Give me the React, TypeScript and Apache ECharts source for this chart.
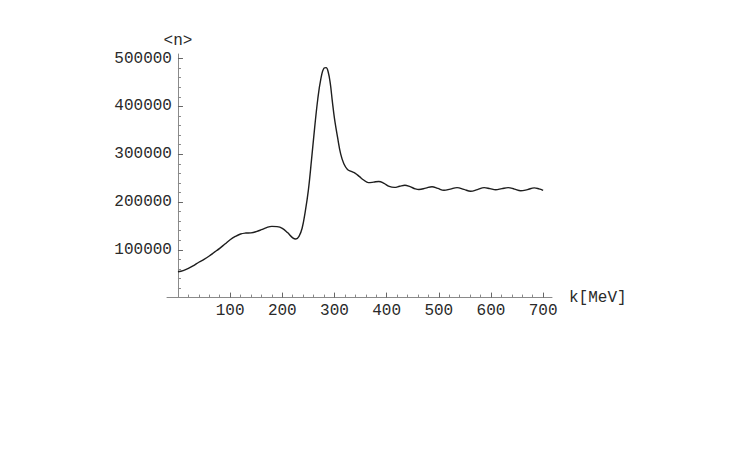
import React, { useEffect, useRef } from "react";
import * as echarts from "echarts";

const kValues = [
  0, 10, 20, 30, 40, 50, 60, 70, 80, 90, 100, 110, 120, 130, 140, 150, 160, 170, 180, 190,
  200, 210, 220, 226, 232, 238, 244, 250, 256, 262, 268, 274, 280, 284, 288, 292, 296, 300,
  306, 312, 318, 325, 332, 340, 348, 356, 365, 375, 385, 395, 405, 415, 425, 435, 445, 455,
  462, 475, 487, 498, 510, 522, 535, 548, 561, 574, 587, 598, 609, 621, 633, 645, 657, 670,
  683, 692, 700,
];
const nValues = [
  54000, 56500, 61000, 67000, 74000, 80000, 87000, 95000, 103000, 112000, 121000, 128000,
  133000, 135000, 135500, 138000, 142000, 146500, 149000, 148500, 145000, 136000, 125000,
  122500, 128000, 145000, 180000, 225000, 288000, 355000, 415000, 458000, 480000, 481000,
  472000, 448000, 410000, 375000, 335000, 300000, 280000, 268000, 264000, 260000, 253000,
  246000, 240500, 241500, 243000, 239000, 232500, 230500, 233000, 235000, 232000, 227500,
  226000, 229000, 232000, 228500, 224500, 227000, 230000, 226500, 222500, 226000, 230000,
  228000, 225500, 228000, 230000, 227000, 223500, 226000, 229500, 227500, 224500,
];
const xMajorTicks = [100, 200, 300, 400, 500, 600, 700];
const xMinorTicks = [20, 40, 60, 80, 120, 140, 160, 180, 220, 240, 260, 280, 320, 340, 360, 380, 420, 440, 460, 480, 520, 540, 560, 580, 620, 640, 660, 680];
const yMajorTicks = [100000, 200000, 300000, 400000, 500000];
const yMinorTicks = [
  20000, 40000, 60000, 80000, 120000, 140000, 160000, 180000, 220000, 240000, 260000, 280000,
  320000, 340000, 360000, 380000, 420000, 440000, 460000, 480000,
];
const xName = "k[MeV]";
const yName = "<n>";

const FONT = "Liberation Mono";
const TEXT = "#2a2a2a";
const AXIS = "#8a8a8a";

export default function App() {
  const ref = useRef<HTMLDivElement>(null);
  useEffect(() => {
    document.body.style.margin = "0";
    if (!ref.current) return;
    const chart = echarts.init(ref.current, undefined, { renderer: "svg" });
    const xMin = -21;
    const xMax = 717;
    const gridLeft = 167;
    const gridWidth = 385;
    const yAxisShift = (-xMin / (xMax - xMin)) * gridWidth;
    const yRange = { min: 0, max: 509600 };
    const fmt = (v: number) => String(v);
    chart.setOption({
      animation: false,
      backgroundColor: "#fff",
      grid: { left: gridLeft, top: 54, width: gridWidth, height: 243.6, containLabel: false },
      xAxis: [
        {
          type: "value",
          min: xMin,
          max: xMax,
          position: "bottom",
          axisLine: { show: true, onZero: true, onZeroAxisIndex: 0, lineStyle: { color: AXIS, width: 1 } },
          axisTick: { show: true, inside: true, length: 3, customValues: xMinorTicks, lineStyle: { color: "#888", width: 1 } },
          axisLabel: { show: false },
          splitLine: { show: false },
          name: xName,
          nameLocation: "end",
          nameGap: 17,
          nameTextStyle: { fontFamily: FONT, fontSize: 16, color: TEXT, padding: [0, 0, 3, 0] },
        },
        {
          type: "value",
          min: xMin,
          max: xMax,
          position: "bottom",
          axisLine: { show: false, onZero: false },
          axisTick: { show: true, inside: true, length: 5, customValues: xMajorTicks, lineStyle: { color: "#666", width: 1 } },
          axisLabel: { show: true, customValues: xMajorTicks, formatter: fmt, margin: 5, fontFamily: FONT, fontSize: 16, color: TEXT },
          splitLine: { show: false },
        },
      ],
      yAxis: [
        {
          type: "value",
          ...yRange,
          position: "left",
          axisLine: { show: true, onZero: true, onZeroAxisIndex: 0, lineStyle: { color: AXIS, width: 1 } },
          axisTick: { show: true, inside: true, length: 3, customValues: yMinorTicks, lineStyle: { color: "#888", width: 1 } },
          axisLabel: { show: false },
          splitLine: { show: false },
          name: yName,
          nameLocation: "end",
          nameGap: 5,
          nameTextStyle: { fontFamily: FONT, fontSize: 16, color: TEXT },
        },
        {
          type: "value",
          ...yRange,
          position: "left",
          offset: -yAxisShift,
          axisLine: { show: false, onZero: false },
          axisTick: { show: true, inside: true, length: 5, customValues: yMajorTicks, lineStyle: { color: "#666", width: 1 } },
          axisLabel: { show: true, customValues: yMajorTicks, formatter: fmt, margin: 6, fontFamily: FONT, fontSize: 16, color: TEXT },
          splitLine: { show: false },
        },
      ],
      series: [
        {
          type: "line",
          xAxisIndex: 0,
          yAxisIndex: 0,
          data: kValues.map((k, i) => [k, nValues[i]]),
          smooth: 0.4,
          showSymbol: false,
          symbol: "none",
          lineStyle: { color: "#1e1e1e", width: 1.4 },
        },
      ],
    });
    return () => chart.dispose();
  }, []);
  return <div ref={ref} style={{ width: 736, height: 460 }} />;
}
